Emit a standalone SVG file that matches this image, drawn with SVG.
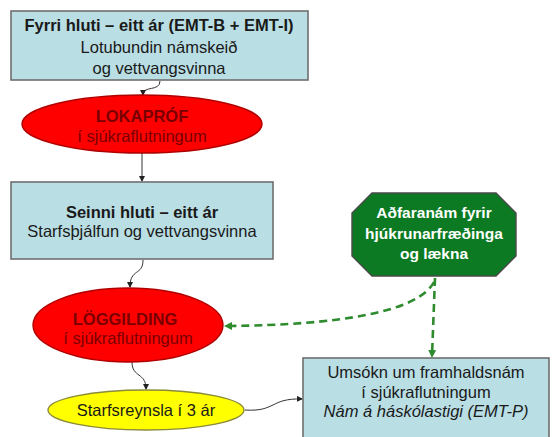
<svg xmlns="http://www.w3.org/2000/svg" width="554" height="437" viewBox="0 0 554 437">
<defs>
<style>
.box{fill:#B9DEE4;stroke:#6E6E6E;stroke-width:1.6}
.red{fill:#FF0000;stroke:#B00000;stroke-width:1.4}
.yel{fill:#FFFF00;stroke:#8A8A3A;stroke-width:1.4}
.oct{fill:#0B7A22;stroke:#4A4A4A;stroke-width:1.4}
text{font-family:"Liberation Sans",Arial,sans-serif;font-size:16.5px;text-anchor:middle;fill:#1A1A1A}
.b{font-weight:bold}
.dr{fill:#7A0000}
.w{fill:#FFFFFF;font-size:15.5px}
.i{font-style:italic}
.c{fill:none;stroke:#333;stroke-width:1}
.d{fill:none;stroke:#2E8B2E;stroke-width:2.6;stroke-dasharray:8 5}
</style>
<marker id="ah" markerWidth="6" markerHeight="6" refX="5" refY="3" orient="auto" markerUnits="userSpaceOnUse">
<path d="M0,0 L6,3 L0,6 z" fill="#222"/>
</marker>
<marker id="ag" markerWidth="8" markerHeight="8" refX="6" refY="4" orient="auto" markerUnits="userSpaceOnUse">
<path d="M0,0 L8,4 L0,8 z" fill="#2E8B2E"/>
</marker>
</defs>

<g id="connectors">
<path class="c" d="M160,81 C160,92 143,85 143,95" marker-end="url(#ah)"/>
<path class="c" d="M142,153 L142,181" marker-end="url(#ah)"/>
<path class="c" d="M143,260 C143,276 130,268 130,287" marker-end="url(#ah)"/>
<path class="c" d="M132,362 C132,378 146,372 146,389" marker-end="url(#ah)"/>
<path class="c" d="M245,410 C276,412 270,398 302,399" marker-end="url(#ah)"/>
<path class="d" d="M435,278 L432,356" marker-end="url(#ag)"/>
<path class="d" d="M434,282 C418,312 340,325 226,326" marker-end="url(#ag)"/>
</g>

<g id="node-fyrri">
<rect class="box" x="11" y="11" width="297" height="69"/>
<text class="b" x="159" y="31">Fyrri hluti – eitt ár (EMT-B + EMT-I)</text>
<text x="159" y="53">Lotubundin námskeið</text>
<text x="159" y="74">og vettvangsvinna</text>
</g>

<g id="node-lokaprof">
<ellipse class="red" cx="142" cy="124" rx="120" ry="29"/>
<text class="b dr" x="142" y="122">LOKAPRÓF</text>
<text class="dr" x="142" y="142">í sjúkraflutningum</text>
</g>

<g id="node-seinni">
<rect class="box" x="11" y="182" width="262" height="77"/>
<text class="b" x="142" y="218">Seinni hluti – eitt ár</text>
<text x="142" y="237">Starfsþjálfun og vettvangsvinna</text>
</g>

<g id="node-adfaranam">
<polygon class="oct" points="372,193 496,193 516,213 516,256 496,276 372,276 352,256 352,213"/>
<text class="b w" x="434" y="218">Aðfaranám fyrir</text>
<text class="b w" x="434" y="239">hjúkrunarfræðinga</text>
<text class="b w" x="434" y="259">og lækna</text>
</g>

<g id="node-loggilding">
<ellipse class="red" cx="128" cy="325" rx="95" ry="37"/>
<text class="b dr" x="125" y="325">LÖGGILDING</text>
<text class="dr" x="128" y="344">í sjúkraflutningum</text>
</g>

<g id="node-starfsreynsla">
<ellipse class="yel" cx="146" cy="410" rx="98" ry="20"/>
<text x="146" y="416">Starfsreynsla í 3 ár</text>
</g>

<g id="node-umsokn">
<rect class="box" x="303" y="358" width="246" height="86"/>
<text x="426" y="378">Umsókn um framhaldsnám</text>
<text x="426" y="398">í sjúkraflutningum</text>
<text class="i" x="426" y="417">Nám á háskólastigi (EMT-P)</text>
</g>
</svg>
